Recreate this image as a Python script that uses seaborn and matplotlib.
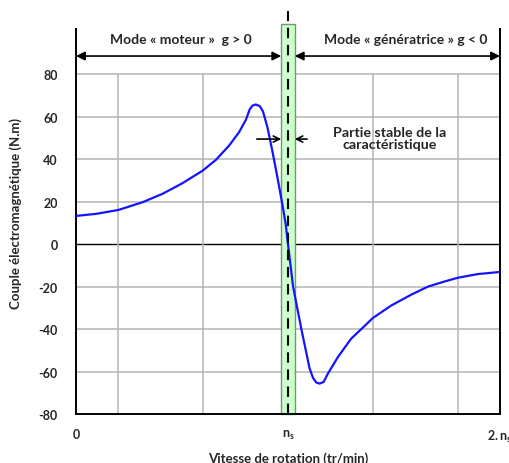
import matplotlib
matplotlib.use("Agg")
import matplotlib.pyplot as plt
import seaborn as sns
import pandas as pd
from matplotlib.patches import Rectangle

# ---- data ----
speed = [0.0, 0.094, 0.2, 0.314, 0.408, 0.502, 0.597, 0.659, 0.722, 0.769, 0.801,
         0.820, 0.832, 0.848, 0.867, 0.882, 0.903, 0.926, 0.95, 0.973, 0.989, 1.0,
         1.024, 1.063, 1.102, 1.118, 1.134, 1.149, 1.168, 1.188, 1.236, 1.298, 1.346,
         1.4, 1.487, 1.581, 1.66, 1.738, 1.8, 1.895, 2.0]
torque = [13.3, 14.25, 16.1, 19.75, 23.7, 28.7, 34.6, 39.6, 46.4, 52.7, 58.5,
          63.6, 65.2, 65.8, 65.0, 62.5, 55.0, 44.0, 31.5, 19.0, 9.5, 0.0,
          -20.0, -40.0, -58.6, -63.0, -65.2, -65.7, -64.9, -61.0, -53.1, -44.5, -40.0,
          -34.8, -28.9, -23.8, -20.0, -17.6, -15.85, -14.1, -13.1]
yticks = [-80, -60, -40, -20, 0, 20, 40, 60, 80]
xticks = [0, 1, 2]
xticklabels = ["0", r"$\mathbf{n}_\mathbf{s}$", r"$\mathbf{2.n}_\mathbf{s}$"]
xgrid = [0.2, 0.6, 1.4, 1.8]
band = [0.968, 1.032]
mode_y = 88.6
stable_y = 49.5

sns.set_style("white")
plt.rcParams["font.family"] = ["Lato", "DejaVu Sans"]
plt.rcParams["font.weight"] = "bold"
plt.rcParams["mathtext.fontset"] = "custom"
plt.rcParams["mathtext.rm"] = "Lato"
plt.rcParams["mathtext.bf"] = "Lato:bold"

fig = plt.figure(figsize=(5.10, 4.64), dpi=100)
ax = fig.add_axes([76 / 510, 1 - 415 / 464, 424 / 510, 403.4 / 464])
ax.set_xlim(0, 2)
ax.set_ylim(-80, 110)

# grid
for g in yticks[1:]:
    if g == 0:
        ax.hlines(0, 0, 2, color="black", lw=1.0, zorder=1)
    else:
        ax.hlines(g, 0, 2, color="#b4b4b4", lw=1.1, zorder=1)
ax.vlines(xgrid, -80, 80, color="#b4b4b4", lw=1.1, zorder=1)

# green band + synchronism line
ax.add_patch(Rectangle((band[0], -80), band[1] - band[0], 183.5, facecolor="#ccffcc",
                       edgecolor="#6f9a6f", lw=1.0, zorder=2, clip_on=False))
ax.plot([1, 1], [-80, 110], color="black", lw=1.5, dashes=(5, 3.2), zorder=4, clip_on=False)

# curve
df = pd.DataFrame({"speed": speed, "torque": torque})
sns.lineplot(data=df, x="speed", y="torque", color="#1414ff", lw=1.6, ax=ax, zorder=3,
             sort=False)

# spines
ax.spines["top"].set_visible(False)
for s in ["left", "right"]:
    ax.spines[s].set_bounds(-80, 101.5)
    ax.spines[s].set_color("black")
    ax.spines[s].set_linewidth(1.4)
ax.spines["bottom"].set_color("black")
ax.spines["bottom"].set_linewidth(1.4)
ax.spines["bottom"].set_zorder(5)

ax.set_yticks(yticks)
ax.set_yticklabels([str(v) for v in yticks], fontsize=9, fontweight="bold")
ax.set_xticks(xticks)
ax.set_xticklabels(xticklabels, fontsize=9, fontweight="bold")
ax.tick_params(axis="y", length=0, pad=13)
ax.tick_params(axis="x", length=0, pad=10)

ax.set_xlabel("Vitesse de rotation (tr/min)", fontsize=9.5, fontweight="bold", labelpad=5)
ax.set_ylabel("Couple électromagnétique (N.m)", fontsize=9.5, fontweight="bold", labelpad=12)

# mode arrows
arrow_kw = dict(arrowstyle="<|-|>", color="black", lw=1.2, mutation_scale=13,
                shrinkA=0, shrinkB=0)
ax.annotate("", xy=(0, mode_y), xytext=(band[0], mode_y), arrowprops=arrow_kw,
            annotation_clip=False)
ax.annotate("", xy=(band[1], mode_y), xytext=(2, mode_y), arrowprops=arrow_kw,
            annotation_clip=False)
ax.text(0.495, 96.5, "Mode « moteur »  g > 0", ha="center", va="center",
        fontsize=10, fontweight="bold")
ax.text(1.555, 96.5, "Mode « génératrice » g < 0", ha="center", va="center",
        fontsize=10, fontweight="bold")

# stable part arrows
open_kw = dict(arrowstyle="->", color="black", lw=1.2, mutation_scale=11,
               shrinkA=0, shrinkB=0)
ax.annotate("", xy=(band[0], stable_y), xytext=(0.853, stable_y), arrowprops=open_kw)
ax.annotate("", xy=(band[1], stable_y), xytext=(1.09, stable_y), arrowprops=open_kw)
ax.text(1.48, stable_y + 0.5, "Partie stable de la\ncaractéristique", ha="center",
        va="center", fontsize=10.3, fontweight="bold", linespacing=1.05)

fig.savefig("out.png", dpi=100)
